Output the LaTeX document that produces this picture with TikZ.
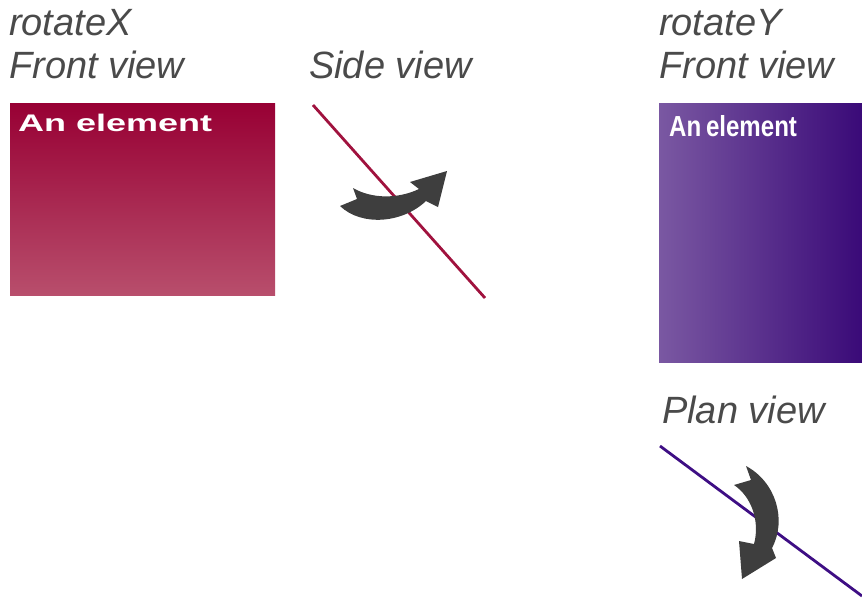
\documentclass[tikz,border=0pt]{standalone}
\usepackage{fontspec}
\usepackage{graphicx}
\setmainfont{Liberation Sans}
\begin{document}
\definecolor{titlegray}{RGB}{74,74,74}
\definecolor{arrowgray}{RGB}{62,62,62}
\definecolor{redtop}{RGB}{152,0,52}
\definecolor{redbot}{RGB}{184,78,108}
\definecolor{redline}{RGB}{160,18,62}
\definecolor{purpleleft}{RGB}{122,88,162}
\definecolor{purpleright}{RGB}{58,10,120}
\definecolor{purpleline}{RGB}{62,14,132}
\begin{tikzpicture}[x=1pt,y=-1pt,
  title/.style={anchor=base west,inner sep=0pt,text=titlegray,
    font=\fontsize{38}{40}\selectfont\itshape},
  boxlabel/.style={anchor=base west,inner sep=0pt,text=white},
  viewline/.style={line width=2.8pt},
  turnarrow/.style={fill=arrowgray,draw=none}]
\useasboundingbox (0,0) rectangle (862,600);

% rotateX: front view
\node[title] (rx) at (9,35) {rotateX};
\node[title] (rxfront) at (9,78) {Front view};
\fill[top color=redtop,bottom color=redbot] (10,103) rectangle (275,295);
\node[boxlabel,font=\fontsize{24}{26}\selectfont\bfseries] (rxlabel) at (18,131)
  {\scalebox{1.5}[1]{An element}};

% rotateX: side view
\node[title] (rxside) at (309,78) {Side view};
\coordinate (sa) at (313,105);
\coordinate (sb) at (485,298);
\draw[viewline,redline] (sa) -- (sb);
\fill[turnarrow] (353,188) -- (357,199) -- (340,206)
  .. controls (362,227) and (403,223) .. (426,201)
  -- (438,207) -- (447,171) -- (410,182) -- (419,189)
  .. controls (398,199) and (372,199) .. (353,188) -- cycle;

% rotateY: front view
\node[title] (ry) at (659,35) {rotateY};
\node[title] (ryfront) at (659,78) {Front view};
\fill[left color=purpleleft,right color=purpleright] (659,103) rectangle (862,362);
\node[boxlabel,font=\fontsize{29}{31}\selectfont\bfseries] (rylabel) at (669,136)
  {\scalebox{0.83}[1]{An\kern-0.08em\ element}};

% rotateY: plan view
\node[title] (ryplan) at (662,423) {Plan view};
\coordinate (pa) at (660,446);
\coordinate (pb) at (862,596);
\draw[viewline,purpleline] (pa) -- (pb);
\fill[turnarrow] (746,466) -- (751,480) -- (734,485)
  .. controls (752,497) and (760,522) .. (754,544)
  -- (739,541) -- (742,579) -- (776,558) -- (772,548)
  .. controls (787,520) and (776,482) .. (746,466) -- cycle;
\end{tikzpicture}
\end{document}
